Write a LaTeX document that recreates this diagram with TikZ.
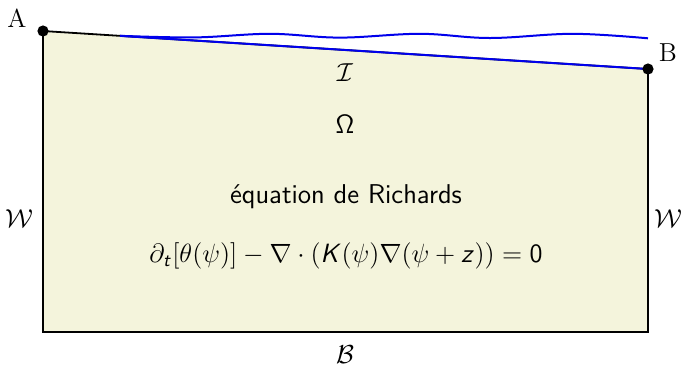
\RequirePackage{fix-cm}
\documentclass[tikz,border=0pt]{standalone}
\usetikzlibrary{calc}
\DeclareMathAlphabet{\mathsfit}{OT1}{cmss}{m}{sl}
\definecolor{domfill}{RGB}{244,244,220}
\definecolor{ifblue}{RGB}{0,0,235}
\tikzset{
  lbl/.style={font=\sffamily\fontsize{13.6}{16}\selectfont, inner sep=0pt},
  big/.style={font=\fontsize{13}{15}\selectfont, inner sep=0pt},
  eqn/.style={font=\fontsize{13.2}{15}\selectfont, inner sep=0pt},
  pt/.style={circle, fill=black, inner sep=0pt, minimum size=5.6pt},
  bnd/.style={line width=0.9pt, draw=black},
  iface/.style={line width=1pt, draw=ifblue},
}
\begin{document}
\begin{tikzpicture}[x=0.5pt,y=-0.5pt]
\useasboundingbox (0,0) rectangle (686,366);
\coordinate (A) at (43,31);
\coordinate (B) at (648,69);
\coordinate (C) at (648,332);
\coordinate (D) at (43,332);
\coordinate (S) at ($(A)!0.1273!(B)$);
\fill[domfill] (A) -- (B) -- (C) -- (D) -- cycle;
\draw[bnd] (A) -- (B) -- (C) -- (D) -- cycle;
\draw[iface] (S) -- (B);
\draw[iface] plot[smooth, tension=0.6] coordinates {(120,35.8) (195,37.4) (270,33.8) (340,37.6) (420,33.8) (490,38) (573,33.8) (648,38.3)};
\node[pt] (Adot) at (A) {};
\node[pt] (Bdot) at (B) {};
\node[big] (Alab) at (17,18) {A};
\node[big] (Blab) at (668,53) {B};
\node[big] (I) at (345,73) {$\mathcal{I}$};
\node[eqn] (Om) at (345,124) {$\mathsf{\Omega}$};
\node[lbl] (eq) at (346,197) {équation de Richards};
\node[eqn] (rich) at (346,256) {$\partial_{\mathsfit{t}}[\theta(\psi)] - \nabla\cdot(\mathsfit{K}(\psi)\nabla(\psi+\mathsfit{z})) = \mathsf{0}$};
\node[big] (WL) at (19,219) {$\mathcal{W}$};
\node[big] (WR) at (668,219) {$\mathcal{W}$};
\node[big] (Bb) at (345,355) {$\mathcal{B}$};
\end{tikzpicture}
\end{document}
